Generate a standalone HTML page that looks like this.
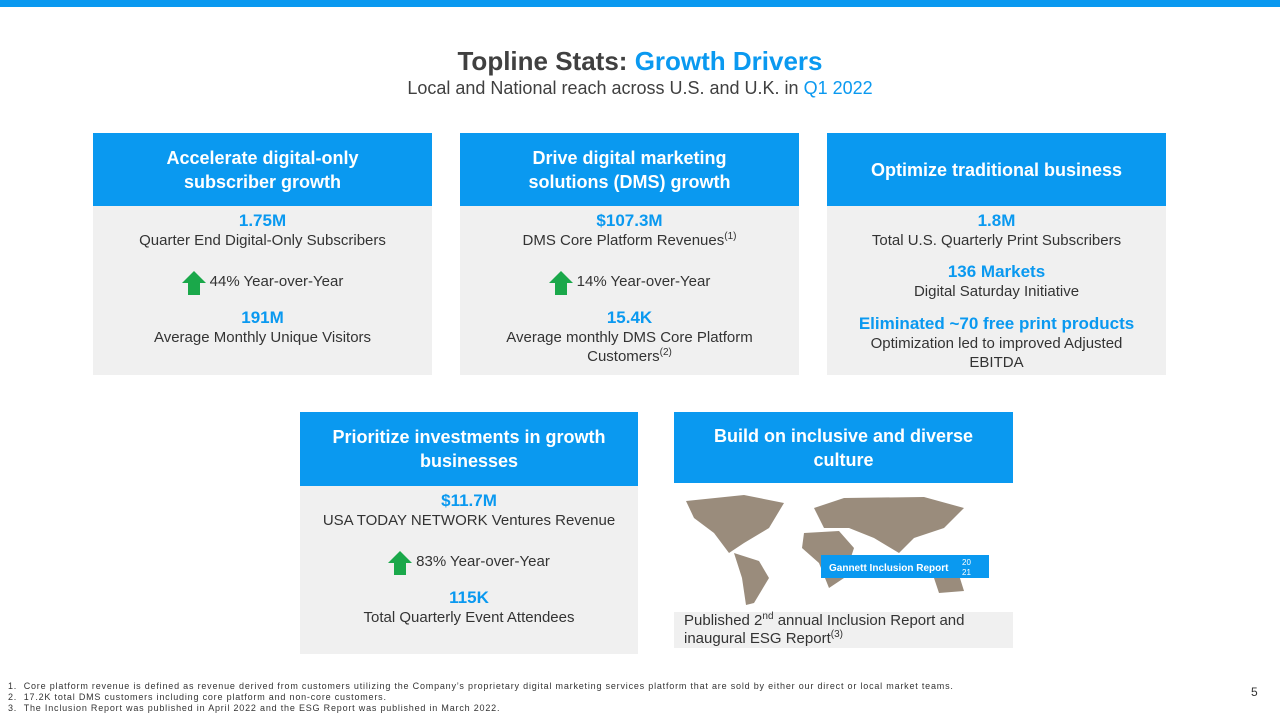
<!DOCTYPE html>
<html><head><meta charset="utf-8"><style>
body{margin:0;width:1280px;height:720px;position:relative;background:#fff;font-family:"Liberation Sans","DejaVu Sans",sans-serif;color:#333;overflow:hidden}
.a{position:absolute}
.hd{position:absolute;background:#0a99f0;color:#fff;font-weight:bold;font-size:18px;text-align:center;display:flex;align-items:center;justify-content:center;line-height:24px}
.bd{position:absolute;background:#f0f0f0;text-align:center;font-size:15px;color:#333}
.num{color:#0a99f0;font-weight:bold;font-size:17px;line-height:20px}
.ln{line-height:19px}
.up{display:inline-block;width:0;height:0;border-left:12px solid transparent;border-right:12px solid transparent;border-bottom:12px solid #1aa84a;position:relative;top:-4px}
.up:after{content:"";position:absolute;left:-6px;top:12px;width:12px;height:12px;background:#1aa84a}
.yoy{display:flex;align-items:center;justify-content:center;gap:4px;height:30px}
sup{font-size:10px;line-height:0;vertical-align:6px}
</style></head><body>
<div class="a" style="left:0;top:0;width:1280px;height:7px;background:#0a99f0"></div>
<div class="a" style="left:0;top:46px;width:1280px;text-align:center;font-size:26px;font-weight:bold;color:#404040">Topline Stats: <span style="color:#0a99f0">Growth Drivers</span></div>
<div class="a" style="left:0;top:78px;width:1280px;text-align:center;font-size:18px;color:#404040">Local and National reach across U.S. and U.K. in <span style="color:#0a99f0">Q1 2022</span></div>

<div class="hd" style="left:93px;top:133px;width:339px;height:73px">Accelerate digital-only<br>subscriber growth</div>
<div class="bd" style="left:93px;top:206px;width:339px;height:169px">
<div class="num" style="margin-top:5px">1.75M</div><div class="ln">Quarter End Digital-Only Subscribers</div>
<div class="yoy" style="margin-top:16px"><span class="up"></span><span>44% Year-over-Year</span></div>
<div class="num" style="margin-top:12px">191M</div><div class="ln">Average Monthly Unique Visitors</div></div>

<div class="hd" style="left:460px;top:133px;width:339px;height:73px">Drive digital marketing<br>solutions (DMS) growth</div>
<div class="bd" style="left:460px;top:206px;width:339px;height:169px">
<div class="num" style="margin-top:5px">$107.3M</div><div class="ln">DMS Core Platform Revenues<sup>(1)</sup></div>
<div class="yoy" style="margin-top:16px"><span class="up"></span><span>14% Year-over-Year</span></div>
<div class="num" style="margin-top:12px">15.4K</div><div class="ln">Average monthly DMS Core Platform<br>Customers<sup>(2)</sup></div></div>

<div class="hd" style="left:827px;top:133px;width:339px;height:73px">Optimize traditional business</div>
<div class="bd" style="left:827px;top:206px;width:339px;height:169px">
<div class="num" style="margin-top:5px">1.8M</div><div class="ln">Total U.S. Quarterly Print Subscribers</div>
<div class="num" style="margin-top:12px">136 Markets</div><div class="ln">Digital Saturday Initiative</div>
<div class="num" style="margin-top:13px">Eliminated ~70 free print products</div><div class="ln">Optimization led to improved Adjusted<br>EBITDA</div></div>

<div class="hd" style="left:300px;top:412px;width:338px;height:74px">Prioritize investments in growth<br>businesses</div>
<div class="bd" style="left:300px;top:486px;width:338px;height:168px">
<div class="num" style="margin-top:5px">$11.7M</div><div class="ln">USA TODAY NETWORK Ventures Revenue</div>
<div class="yoy" style="margin-top:16px"><span class="up"></span><span>83% Year-over-Year</span></div>
<div class="num" style="margin-top:12px">115K</div><div class="ln">Total Quarterly Event Attendees</div></div>

<div class="hd" style="left:674px;top:412px;width:339px;height:71px">Build on inclusive and diverse<br>culture</div>
<div class="a" style="left:674px;top:483px;width:339px;height:129px;background:#fff">
<svg width="339" height="129">
<g fill="#9a8c7c">
<path d="M12 18 L70 12 L110 20 L95 45 L70 60 L55 70 L40 50 L20 35Z"/>
<path d="M60 70 L85 78 L95 95 L80 120 L72 122 L68 95Z"/>
<path d="M140 25 L170 15 L250 14 L290 25 L270 45 L240 55 L225 70 L200 55 L175 45 L150 45Z"/>
<path d="M130 50 L165 48 L180 65 L170 95 L155 105 L145 80 L128 65Z"/>
<path d="M260 95 L285 92 L290 108 L265 110Z"/>
</g>
<rect x="147" y="72" width="168" height="23" fill="#0a99f0"/>
<text x="155" y="88" font-size="10" font-weight="bold" fill="#fff" font-family="Liberation Sans">Gannett Inclusion Report</text>
<text x="288" y="82" font-size="8" fill="#fff" font-family="Liberation Sans">20</text>
<text x="288" y="92" font-size="8" fill="#fff" font-family="Liberation Sans">21</text>
</svg></div>
<div class="a" style="left:674px;top:612px;width:339px;height:36px;background:#f0f0f0;font-size:15px;line-height:18px;padding-left:10px;box-sizing:border-box">Published 2<sup>nd</sup> annual Inclusion Report and<br>inaugural ESG Report<sup>(3)</sup></div>

<div class="a" style="left:8px;top:681px;font-size:9px;letter-spacing:0.8px;line-height:11px;color:#333;white-space:nowrap">
1.&nbsp;&nbsp;Core platform revenue is defined as revenue derived from customers utilizing the Company’s proprietary digital marketing services platform that are sold by either our direct or local market teams.<br>
2.&nbsp;&nbsp;17.2K total DMS customers including core platform and non-core customers.<br>
3.&nbsp;&nbsp;The Inclusion Report was published in April 2022 and the ESG Report was published in March 2022.</div>
<div class="a" style="left:1251px;top:685px;font-size:12px">5</div>
</body></html>
